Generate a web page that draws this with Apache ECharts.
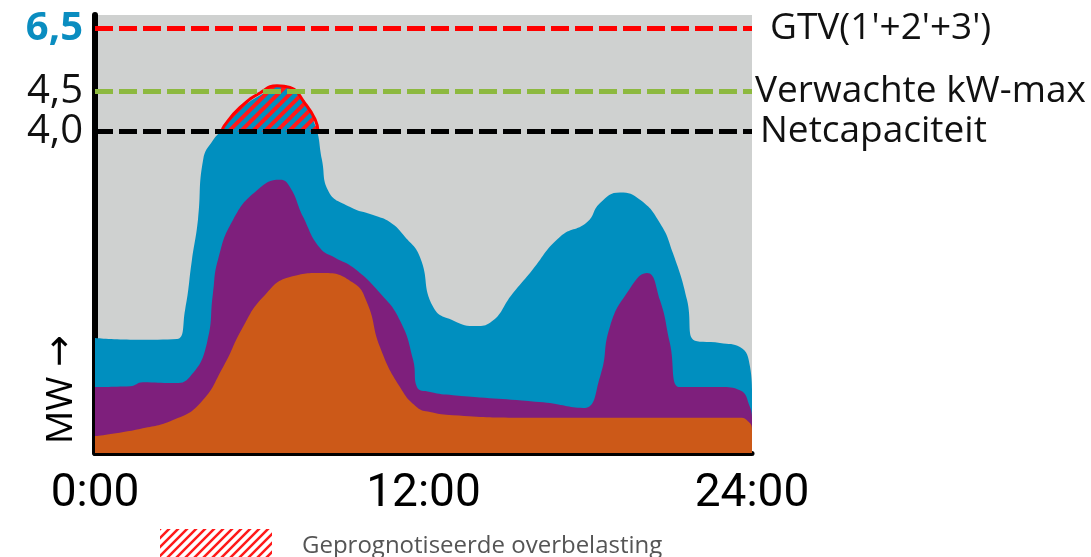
<!DOCTYPE html>
<html>
<head>
<meta charset="utf-8">
<script src="https://cdn.jsdelivr.net/npm/echarts@6/dist/echarts.min.js"></script>
<style>
  html, body { margin: 0; padding: 0; background: #fff; }
  #chart { width: 1091px; height: 557px; }
</style>
</head>
<body>
<div id="chart"></div>
<script>
  // x = hour of day, y = MW on the drawing scale (top of the scale is squeezed in the original)
  var blueLoad = [
    [0, 1.43], [1.28, 1.41], [3.0, 1.42], [3.29, 1.78], [3.54, 2.40], [3.76, 2.90],
    [3.95, 3.65], [4.31, 3.89], [4.64, 4.02], [5.30, 4.27], [6.03, 4.45], [6.87, 4.57],
    [7.49, 4.45], [8.04, 4.08], [8.29, 3.65], [8.51, 3.27], [9.32, 3.06], [10.16, 2.96],
    [10.78, 2.87], [11.32, 2.69], [11.87, 2.44], [12.35, 1.82], [13.08, 1.65], [13.95, 1.58],
    [14.43, 1.62], [15.27, 1.99], [15.89, 2.24], [16.99, 2.69], [17.97, 2.87], [18.45, 3.11],
    [19.18, 3.24], [19.91, 3.15], [20.64, 2.86], [21.11, 2.49], [21.63, 1.90], [21.85, 1.41],
    [22.83, 1.37], [23.56, 1.32], [23.93, 1.07], [24, 0.8]
  ];
  var purpleLoad = [
    [0, 0.82], [1.28, 0.83], [1.75, 0.88], [2.85, 0.87], [3.47, 0.95], [4.09, 1.37],
    [4.31, 1.99], [4.49, 2.40], [5.04, 2.90], [5.92, 3.27], [6.76, 3.40], [7.12, 3.31],
    [7.60, 2.94], [8.22, 2.55], [8.77, 2.43], [9.42, 2.31], [10.41, 1.99], [11.14, 1.65],
    [11.62, 1.16], [11.76, 0.82], [12.24, 0.76], [13.08, 0.72], [16.37, 0.63], [17.83, 0.56],
    [18.45, 0.95], [18.81, 1.57], [19.43, 1.99], [20.16, 2.24], [20.64, 1.90], [21.0, 1.37],
    [21.37, 0.82], [22.83, 0.82], [23.56, 0.78], [23.93, 0.57], [24, 0.45]
  ];
  var orangeLoad = [
    [0, 0.21], [1.64, 0.30], [2.85, 0.41], [3.84, 0.62], [4.68, 1.07], [5.41, 1.57],
    [6.14, 1.94], [7.12, 2.19], [8.33, 2.24], [9.42, 2.12], [9.94, 1.87], [10.41, 1.32],
    [11.14, 0.82], [11.76, 0.57], [12.24, 0.51], [13.08, 0.47], [15.53, 0.44], [23.56, 0.44],
    [23.93, 0.37], [24, 0.3]
  ];
  // part of the load above the net capacity
  var overloadTop = [
    [4.64, 4.0], [4.72, 4.07], [5.30, 4.30], [6.03, 4.48], [6.65, 4.57], [7.12, 4.55],
    [7.67, 4.35], [8.04, 4.15], [8.15, 4.0]
  ];
  var levelValues = [5.28, 4.5, 4.0];
  var levelTicks = ['6,5', '4,5', '4,0'];
  var levelNames = ["GTV(1'+2'+3')", 'Verwachte kW-max', 'Netcapaciteit'];
  var hourTicks = [0, 12, 24];
  var overloadName = 'Geprognotiseerde overbelasting';

  // red diagonal hatch
  function makeHatch(size, lineW) {
    var c = document.createElement('canvas');
    c.width = size;
    c.height = size;
    var ctx = c.getContext('2d');
    ctx.strokeStyle = '#ff1a1a';
    ctx.lineWidth = lineW;
    ctx.beginPath();
    ctx.moveTo(-size / 4, size * 1.25); ctx.lineTo(size * 1.25, -size / 4);
    ctx.moveTo(-size * 0.75, size * 0.75); ctx.lineTo(size * 0.75, -size * 0.75);
    ctx.moveTo(size / 4, size * 1.75); ctx.lineTo(size * 1.75, size / 4);
    ctx.stroke();
    return { image: c, repeat: 'repeat' };
  }
  var hatchFill = makeHatch(12, 4);
  var hatchLegend = makeHatch(9, 2.5);

  var myChart = echarts.init(document.getElementById('chart'));

  function levelLine(i, color, dist) {
    return {
      yAxis: levelValues[i],
      lineStyle: { color: color, width: 5, type: [18, 6] },
      label: {
        show: true,
        position: 'end',
        formatter: levelNames[i],
        distance: dist,
        fontFamily: 'Open Sans',
        fontSize: 37,
        color: '#111'
      }
    };
  }

  var areaSeries = function (name, data, color) {
    return {
      name: name, type: 'line', data: data, smooth: 0.5,
      showSymbol: false, lineStyle: { width: 0 }, areaStyle: { color: color, opacity: 1 }
    };
  };

  var blue = areaSeries('blauw', blueLoad, '#008fbf');
  blue.markLine = { silent: true, symbol: 'none', data: [levelLine(1, '#8db93f', 3)] };

  var option = {
    animation: false,
    grid: {
      left: 95, top: 15, width: 657, height: 438,
      show: true, backgroundColor: '#cfd1d0', borderWidth: 0
    },
    legend: {
      left: 155, top: 524,
      itemWidth: 112, itemHeight: 34,
      selectedMode: false,
      data: [{ name: overloadName, icon: 'rect', itemStyle: { color: hatchLegend, borderWidth: 0 } }],
      textStyle: { fontFamily: 'Open Sans', fontSize: 24, color: '#555', padding: [0, 0, 0, 25] }
    },
    xAxis: {
      type: 'value', min: 0, max: 24, interval: 12,
      axisLine: { show: true, lineStyle: { color: '#000', width: 5 } },
      axisTick: { show: false },
      splitLine: { show: false },
      axisLabel: {
        margin: 18,
        fontFamily: 'Roboto', fontSize: 46, color: '#000',
        formatter: function (v) { return hourTicks.indexOf(v) >= 0 ? v + ':00' : ''; }
      }
    },
    yAxis: {
      type: 'value', min: 0, max: 5.45,
      axisLine: { show: true, lineStyle: { color: '#000', width: 6 } },
      axisTick: { show: false },
      splitLine: { show: false },
      axisLabel: {
        customValues: levelValues,
        margin: 12,
        fontFamily: 'Open Sans', fontSize: 40, color: '#111',
        formatter: function (v) {
          var i = levelValues.indexOf(v);
          if (i === 0) return '{b|' + levelTicks[0] + '}';
          return i >= 0 ? levelTicks[i] : '';
        },
        rich: { b: { fontFamily: 'Open Sans', fontSize: 40, fontWeight: 'bold', color: '#0a8dc0' } }
      }
    },
    graphic: [{
      type: 'text', x: 42, y: 444, rotation: Math.PI / 2,
      style: {
        text: '{a|MW }{b|→}',
        textAlign: 'left', textVerticalAlign: 'top',
        rich: {
          a: { fontFamily: 'Open Sans', fontSize: 37, fill: '#000' },
          b: { fontFamily: 'DejaVu Sans', fontSize: 38, fill: '#000' }
        }
      }
    }],
    series: [
      blue,
      areaSeries('paars', purpleLoad, '#7e1f7c'),
      areaSeries('oranje', orangeLoad, '#cc5918'),
      {
        name: overloadName, type: 'line', data: overloadTop, smooth: 0.5,
        showSymbol: false, lineStyle: { color: '#ff0000', width: 3 },
        areaStyle: { color: hatchFill, opacity: 1, origin: 4.0 },
        markLine: {
          silent: true, symbol: 'none',
          data: [levelLine(0, '#ff0000', 18), levelLine(2, '#000', 8)]
        }
      }
    ]
  };
  myChart.setOption(option);
</script>
</body>
</html>
